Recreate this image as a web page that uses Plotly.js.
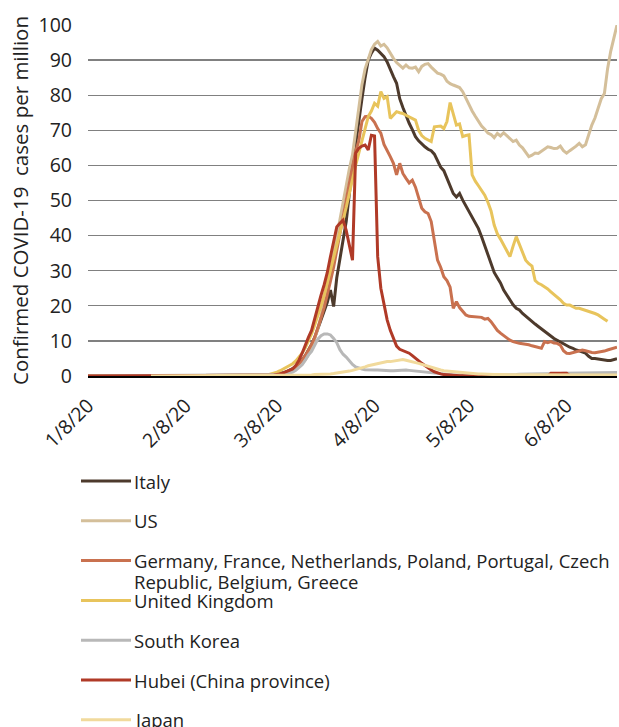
<!DOCTYPE html>
<html><head><meta charset="utf-8">
<script src="https://cdn.plot.ly/plotly-3.0.1.min.js"></script>
<style>html,body{margin:0;padding:0;background:#fff}#chart{width:619px;height:727px}</style>
</head><body><div id="chart"></div>
<script>
const dates = ['2020-01-08','2020-01-28','2020-02-15',
'2020-03-01','2020-03-02','2020-03-03','2020-03-04','2020-03-05','2020-03-06','2020-03-07','2020-03-08','2020-03-09','2020-03-10',
'2020-03-11','2020-03-12','2020-03-13','2020-03-14','2020-03-15','2020-03-16','2020-03-17','2020-03-18','2020-03-19','2020-03-20',
'2020-03-21','2020-03-22','2020-03-23','2020-03-24','2020-03-25','2020-03-26','2020-03-27','2020-03-28','2020-03-29','2020-03-30',
'2020-03-31','2020-04-01','2020-04-02','2020-04-03','2020-04-04','2020-04-05','2020-04-06','2020-04-07','2020-04-08','2020-04-09',
'2020-04-10','2020-04-11','2020-04-12','2020-04-13','2020-04-14','2020-04-15','2020-04-16','2020-04-17','2020-04-18','2020-04-19',
'2020-04-20','2020-04-21','2020-04-22','2020-04-23','2020-04-24','2020-04-25','2020-04-26','2020-04-27','2020-04-28','2020-04-29',
'2020-04-30','2020-05-01','2020-05-02','2020-05-03','2020-05-04','2020-05-05','2020-05-06','2020-05-07','2020-05-08','2020-05-09',
'2020-05-10','2020-05-11','2020-05-12','2020-05-13','2020-05-14','2020-05-15','2020-05-16','2020-05-17','2020-05-18','2020-05-19',
'2020-05-20','2020-05-21','2020-05-22','2020-05-23','2020-05-24','2020-05-25','2020-05-26','2020-05-27','2020-05-28','2020-05-29',
'2020-05-30','2020-05-31','2020-06-01','2020-06-02','2020-06-03','2020-06-04','2020-06-05','2020-06-06','2020-06-07','2020-06-08',
'2020-06-09','2020-06-10','2020-06-11','2020-06-12','2020-06-13','2020-06-14','2020-06-15','2020-06-16','2020-06-17','2020-06-18',
'2020-06-19','2020-06-20','2020-06-21','2020-06-22','2020-06-23','2020-06-24'];

const italy = [0,0,0,
0,0.1,0.1,0.2,0.2,0.3,0.4,0.5,0.7,0.9,
1.2,1.6,2.1,2.8,3.6,4.6,5.8,7.3,9,11,
13.5,16,18.5,21,24.5,19.8,28,33,38,44,
52,60,66,73,79,85,90,92,93.4,92.8,
92,91,89.5,87.2,85.3,83.4,79,76.5,74,72,
70.2,68.2,67,66,65.3,64.6,64.2,63.2,61.5,59.5,
58.5,56.5,54.5,52,51,52,50.1,48.5,46.5,45,
43.5,42,39.7,37,34.5,32,29.5,28,26.5,24.5,
23,21.7,20.3,19.3,18.8,17.8,17,16.2,15.5,14.8,
14.1,13.4,12.7,12,11.3,10.7,10.2,9.7,9,8.5,
8.2,7.9,7.4,7.2,6.8,6.5,5.6,5,5,4.8,
4.6,4.5,4.4,4.4,4.6,4.9];

const us = [0,0,0,
0,0,0.1,0.1,0.1,0.2,0.2,0.3,0.4,0.6,
0.8,1.1,1.5,2,2.7,3.5,4.6,6,8,10.5,
13.5,17,21,25.5,30,35,40,44.5,50,55,
59,63,70,77,83,87.5,90.5,93,94.5,95.3,
94,94.5,93.5,91.8,90.5,89.3,88.5,87.7,88.6,87.8,
87.7,88,86.7,88.2,88.8,89,88,87,86.3,86,
85.5,84,83.3,82.9,82.6,82.2,81,79,77,75.5,
74,72.5,71.2,70.3,69.2,68.8,67.9,69.1,68.4,69.3,
68.4,67.5,66.8,67.2,65.8,65,63.8,62.5,62.9,63.5,
63.4,64,64.6,65.3,65.1,64.8,64.9,65.5,64.2,63.5,
64.2,64.8,65.5,66.3,65.3,65.9,69,71.5,73.5,76.5,
79,80.5,87.5,92.5,96.5,100];

const europe = [0,0,0,
0,0,0.1,0.1,0.2,0.2,0.3,0.4,0.6,0.8,
1.1,1.5,2,2.7,3.5,4.5,5.8,7.3,9,11,
13.5,16.5,19.5,23,27,31,35.5,40,45,50,
55,60,64,67,72.5,73.9,74,73.4,72.3,70.5,
69.2,66,64,62.5,60.6,57.3,60.6,57.7,56.3,55,
55.8,53.8,50.8,47.8,46.8,46.3,44,38.7,33,31,
28.3,27.2,25.3,19.3,21.2,19.5,18.3,17.4,17,16.9,
16.9,16.9,16.7,16.2,16.4,15.5,14.3,13,12.2,11.5,
10.8,10.2,9.8,9.5,9.3,9.2,9.1,8.9,8.6,8.4,
8.2,7.9,9.8,9.5,9.8,9.4,9.3,8.8,7.2,6.5,
6.4,6.6,6.9,7.2,7.4,7.2,6.9,6.7,6.6,6.7,
6.9,7.1,7.4,7.6,7.9,8.2];

const uk = [0,0,0,
0,0.1,0.1,0.2,0.3,0.5,0.8,1.1,1.5,2,
2.4,2.9,3.5,4.3,5.3,6.5,8,9.8,12,14.5,
17,20,23,26.5,30,33.5,37,40.5,44,48,
52,56.5,60,63.5,67,70,73.9,75.5,77.7,76.9,
81,79.1,79.6,73.4,74.5,75.3,75,74.8,74.3,73.9,
73.4,72.9,70,68.5,67.7,67.2,66.8,71,71.1,71.2,
70.5,72.5,77.9,74.8,71.5,71.8,68.2,68.5,68.7,57.3,
55.5,54.2,52.8,51.5,49.5,47,43,40.5,39,37.2,
35.5,34,37,39.7,37.5,35.5,33,32,31.3,27.2,
26.4,26,25.5,24.8,24,23.3,22.6,21.7,20.7,20.2,
20.2,19.8,19.3,19.3,19,18.8,18.5,18.3,17.8,17.4,
16.9,16.2,15.6,null,null,null];

const southKorea = [0,0.1,0.2,
0.2,0.2,0.2,0.2,0.2,0.2,0.2,0.3,0.3,0.4,
0.6,0.8,1.1,1.6,2.3,3.2,4.5,6,7,8.8,
10.5,11.5,12,12,11.7,10.7,9.5,7.5,6.2,5.4,
4.3,3.3,2.6,2.2,2,1.8,1.7,1.7,1.7,1.7,
1.6,1.6,1.5,1.5,1.5,1.6,1.7,1.7,1.7,1.6,
1.5,1.4,1.3,1.2,1.1,1,0.9,0.8,0.6,0.5,
0.4,0.4,0.3,0.3,0.3,0.3,0.2,0.2,0.2,0.2,
0.2,0.2,0.2,0.2,0.2,0.3,0.3,0.3,0.3,0.4,
0.4,0.4,0.4,0.4,0.5,0.5,0.5,0.5,0.5,0.6,
0.6,0.6,0.6,0.7,0.7,0.7,0.7,0.7,0.8,0.8,
0.8,0.8,0.8,0.9,0.9,0.9,0.9,0.9,1,1,
1,1,1,1,1,1];

const hubei = [0,0,0,
0,0,0,0,0.1,0.2,0.3,0.4,0.6,0.9,
1.3,1.6,2,3,4.5,6.5,9,11,13,16.5,
20,23,26,29.5,34,38.5,42.5,43.5,44.4,41.5,
37.5,33,63.5,64.9,65.5,65.8,64.4,68.6,68.4,34,
25,20,16,13,10.5,8.5,7.6,7.2,6.8,6.5,
5.8,5,4.3,3.6,3,2.3,1.7,1.2,0.8,0.6,
0.4,0.3,0.2,0.2,0.1,0.1,0.1,0,0,0,
0,0,0,0,0,0,0,0,0,0,
0,0,0,0,0,0,0,0,0,0,
0,0,0,0,0.8,0.8,0.8,0.8,0.8,0.8,
0.1,0,0,0,0,0,0,0,0,0,
0,0,0,0,0,0];

const japan = [null,0,0.05,
0.1,0.1,0.1,0.1,0.1,0.1,0.1,0.1,0.2,0.2,
0.2,0.2,0.2,0.2,0.3,0.3,0.3,0.3,0.3,0.4,
0.4,0.4,0.5,0.5,0.6,0.7,0.8,0.9,1,1.2,
1.4,1.6,1.8,2,2.3,2.6,2.9,3.1,3.3,3.6,
3.9,4.1,4.1,4.1,4.2,4.4,4.6,4.7,4.5,4.2,
4,3.8,3.6,3.3,3,2.7,2.4,2.1,1.9,1.7,
1.5,1.4,1.3,1.2,1.1,1,0.9,0.9,0.8,0.8,
0.7,0.6,0.6,0.5,0.5,0.5,0.4,0.4,0.4,0.4,
0.3,0.3,0.3,0.3,0.3,0.3,0.3,0.3,0.3,0.3,
0.3,0.3,0.3,0.3,0.3,0.3,0.3,0.3,0.3,0.3,
0.3,0.3,0.3,0.3,0.3,0.3,0.3,0.3,0.3,0.3,
0.3,0.3,0.3,0.3,0.3,0.3];

const seriesNames = ['Italy','US','Germany, France, Netherlands, Poland, Portugal, Czech<br>Republic, Belgium, Greece','United Kingdom','South Korea','Hubei (China province)','Japan'];
const seriesValues = [italy, us, europe, uk, southKorea, hubei, japan];
const seriesColors = ['#4D3A2C','#D4BF9A','#C9714F','#E8C45C','#B8B8B8','#B03A27','#F1DA9C'];

const xTickVals = ['2020-01-08','2020-02-08','2020-03-08','2020-04-08','2020-05-08','2020-06-08'];
const xTickText = ['1/8/20','2/8/20','3/8/20','4/8/20','5/8/20','6/8/20'];
const yTickVals = [0,10,20,30,40,50,60,70,80,90,100];

const FONT = '"Open Sans", "Noto Sans", sans-serif';
const TXT = '#222';
const W = 619, H = 727;
const M = {l: 88, r: 2, t: 25, b: 351};
const PW = W - M.l - M.r, PH = H - M.t - M.b;
const px2x = p => (p - M.l) / PW;
const py2y = p => (H - M.b - p) / PH;

const traces = seriesValues.map((vals, i) => ({
  type: 'scatter', mode: 'lines', x: dates, y: vals, name: seriesNames[i].replace('<br>', ' '),
  line: {color: seriesColors[i], width: 3}, showlegend: false, connectgaps: false,
  hoverinfo: 'skip'
}));

// custom legend: fixed pitch per entry, wrapped lines tighter as in the original
const legendTop = 481, legendPitch = 39.8, wrapGap = 21;
const shapes = [], annotations = [];
seriesNames.forEach((n, i) => {
  const cy = legendTop + i * legendPitch;
  shapes.push({type: 'line', xref: 'paper', yref: 'paper',
    x0: px2x(81), x1: px2x(131), y0: py2y(cy), y1: py2y(cy),
    line: {color: seriesColors[i], width: 3}});
  n.split('<br>').forEach((part, k) => {
    annotations.push({xref: 'paper', yref: 'paper', x: px2x(133), y: py2y(cy + k * wrapGap),
      xanchor: 'left', yanchor: 'middle', align: 'left', showarrow: false, borderpad: 0,
      text: part, font: {family: FONT, size: 18.5, color: TXT}});
  });
});

const layout = {
  width: W, height: H,
  margin: M,
  paper_bgcolor: '#fff', plot_bgcolor: '#fff',
  font: {family: FONT, size: 18, color: TXT},
  showlegend: false,
  xaxis: {
    type: 'date', range: ['2020-01-08', '2020-06-24'],
    tickvals: xTickVals, ticktext: xTickText, tickangle: -45,
    showgrid: false, zeroline: false, showline: true, linecolor: '#000', linewidth: 1.5,
    layer: 'below traces', ticks: '', ticklabelstandoff: 9,
    tickfont: {family: FONT, size: 19.5, color: TXT},
    automargin: false
  },
  yaxis: {
    range: [0, 100], tickvals: yTickVals, showgrid: true, gridcolor: '#808080', gridwidth: 1.3,
    zeroline: false, showline: false, ticks: '', ticklabelstandoff: 15,
    tickfont: {family: FONT, size: 19.5, color: TXT},
    title: {text: 'Confirmed COVID-19  cases per million', font: {family: FONT, size: 20.5, color: TXT}, standoff: 4},
    automargin: false
  },
  shapes: shapes,
  annotations: annotations
};

Plotly.newPlot('chart', traces, layout, {staticPlot: true, displayModeBar: false});
</script>
</body></html>
